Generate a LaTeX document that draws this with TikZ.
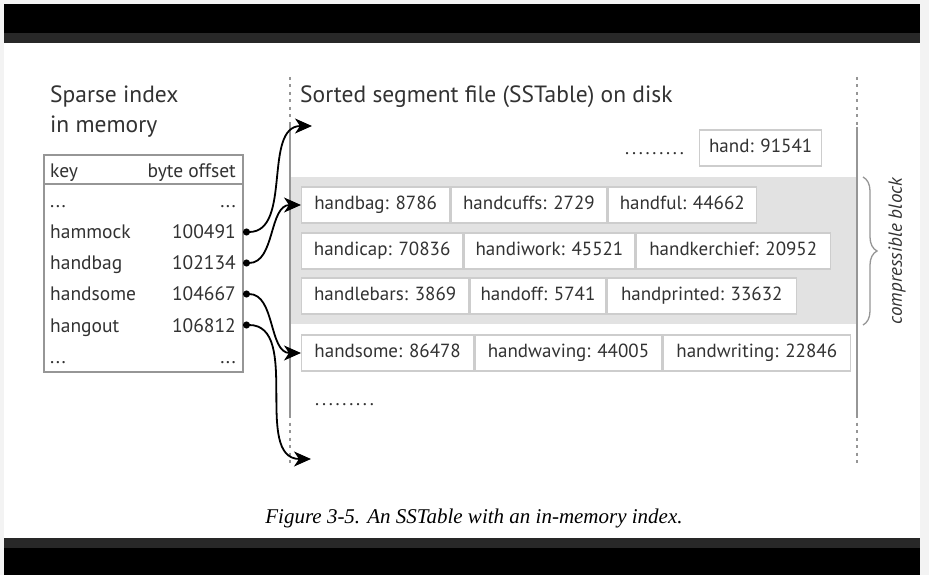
\documentclass[tikz,border=0pt]{standalone}
\usepackage{fontspec}
\setmainfont{PT Sans}
\newfontfamily\capfont{Liberation Serif}
\usetikzlibrary{arrows.meta,decorations.pathreplacing}

\begin{document}
\begin{tikzpicture}[x=1pt,y=-1pt,
  entry/.style={shape=rectangle,draw=sst_border,line width=1.3pt,fill=white,anchor=west,minimum height=36pt,inner xsep=0pt,text height=13pt,text depth=4pt,font=\fontsize{19}{19}\selectfont,text=sst_text},
  idxtext/.style={inner sep=0pt,font=\fontsize{19.5}{19.5}\selectfont,text=sst_text},
  dotrun/.style={inner sep=0pt,anchor=base west,font=\fontsize{19}{19}\selectfont\addfontfeature{LetterSpace=8},text=sst_text},
  headtext/.style={inner sep=0pt,anchor=base west,font=\fontsize{23.5}{23.5}\selectfont,text=sst_text},
  pointer/.style={line width=1.8pt,{Circle[length=7pt]}-{Stealth[length=17pt,width=15pt,inset=5pt]}},
  disk/.style={line width=1.5pt,color=sst_line},
  diskdash/.style={disk,dash pattern=on 3pt off 4.5pt}]
\definecolor{sst_text}{RGB}{50,50,50}
\definecolor{sst_line}{RGB}{150,150,150}
\definecolor{sst_border}{RGB}{205,205,205}
\definecolor{sst_block}{RGB}{226,226,226}
\definecolor{sst_frame}{RGB}{40,40,40}
\definecolor{sst_edge}{RGB}{243,243,243}
\useasboundingbox (0,0) rectangle (929,575);
\fill[sst_edge] (0,0) rectangle (929,575);
\fill[black] (4,4) rectangle (920,33);
\fill[sst_frame] (4,33) rectangle (920,43);
\fill[white] (4,43) rectangle (920,538);
\fill[sst_frame] (4,538) rectangle (920,548);
\fill[black] (4,548) rectangle (920,575);

% sparse index
\node[headtext] (idxtitle) at (50,103) {Sparse index};
\node[headtext] (idxtitle2) at (50,132) {in memory};
\draw[disk] (44,155) rectangle (243,372);
\draw[disk] (44,184) -- (243,184);
\node[idxtext,anchor=base west] (keyhead) at (50,177) {key};
\node[idxtext,anchor=base east] (offhead) at (236,177) {byte offset};
\node[idxtext,anchor=base west] (k0) at (50,207) {.\kern1.5pt.\kern1.5pt.};
\node[idxtext,anchor=base east] (o0) at (236,207) {.\kern1.5pt.\kern1.5pt.};
\node[idxtext,anchor=base west] (k1) at (50,238) {hammock};
\node[idxtext,anchor=base east] (o1) at (236,238) {100491};
\node[idxtext,anchor=base west] (k2) at (50,269) {handbag};
\node[idxtext,anchor=base east] (o2) at (236,269) {102134};
\node[idxtext,anchor=base west] (k3) at (50,300) {handsome};
\node[idxtext,anchor=base east] (o3) at (236,300) {104667};
\node[idxtext,anchor=base west] (k4) at (50,332) {hangout};
\node[idxtext,anchor=base east] (o4) at (236,332) {106812};
\node[idxtext,anchor=base west] (k5) at (50,363) {.\kern1.5pt.\kern1.5pt.};
\node[idxtext,anchor=base east] (o5) at (236,363) {.\kern1.5pt.\kern1.5pt.};

% segment file
\node[headtext] (segtitle) at (300,103) {Sorted segment file (SSTable) on disk};
\fill[sst_block] (290,177) rectangle (857,324);
\draw[diskdash] (290,77) -- (290,122);
\draw[disk] (290,122) -- (290,415);
\draw[diskdash] (290,415) -- (290,467);
\draw[diskdash] (857,77) -- (857,127);
\draw[disk] (857,127) -- (857,415);
\draw[diskdash] (857,415) -- (857,467);

\node[dotrun] (dots0) at (625,155) {.........};
\node[entry,minimum width=122pt] (hand) at (699,148) {hand: 91541};

\node[entry,minimum width=148pt] (handbag) at (301,205) {handbag: 8786};
\node[entry,minimum width=156pt] (handcuffs) at (handbag.east) {handcuffs: 2729};
\node[entry,minimum width=148pt] (handful) at (handcuffs.east) {handful: 44662};

\node[entry,minimum width=161pt] (handicap) at (301,251) {handicap: 70836};
\node[entry,minimum width=171pt] (handiwork) at (handicap.east) {handiwork: 45521};
\node[entry,minimum width=194pt] (handkerchief) at (handiwork.east) {handkerchief: 20952};

\node[entry,minimum width=167pt] (handlebars) at (301,296) {handlebars: 3869};
\node[entry,minimum width=136pt] (handoff) at (handlebars.east) {handoff: 5741};
\node[entry,minimum width=189pt] (handprinted) at (handoff.east) {handprinted: 33632};

\node[entry,minimum width=172pt] (handsome) at (301,353) {handsome: 86478};
\node[entry,minimum width=187pt] (handwaving) at (handsome.east) {handwaving: 44005};
\node[entry,minimum width=187pt] (handwriting) at (handwaving.east) {handwriting: 22846};

\node[dotrun] (dots1) at (315,405) {.........};

\draw[line width=1.3pt,color=sst_line,decorate,decoration={brace,amplitude=14pt}] (863,177) -- (863,325);
\node[idxtext,rotate=90,font=\fontsize{19}{19}\selectfont\itshape] (blocklabel) at (897,251) {compressible block};

% pointers
\coordinate (off1) at (243,232);
\coordinate (off2) at (243,263);
\coordinate (off3) at (243,294);
\coordinate (off4) at (243,325);
\coordinate (intotop) at (312,126);
\coordinate (intobottom) at (311,459);
\draw[pointer] (off1) to[out=0,in=180] (intotop);
\draw[pointer] (off2) to[out=0,in=180] (handbag.west);
\draw[pointer] (off3) to[out=0,in=180] (handsome.west);
\draw[pointer] (off4) to[out=0,in=180] (intobottom);

\node[inner sep=0pt,anchor=base,text=black] (caption) at (474,523) {\fontsize{21}{21}\capfont\itshape Figure 3-5. An SSTable with an in-memory index.};
\end{tikzpicture}
\end{document}
